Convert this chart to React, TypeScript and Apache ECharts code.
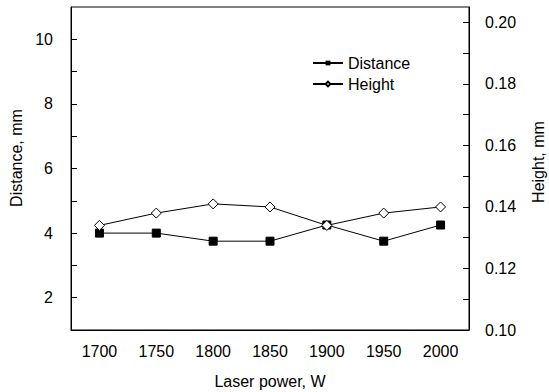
import React, { useEffect, useRef } from "react";
import * as echarts from "echarts";

const categories = ["1700", "1750", "1800", "1850", "1900", "1950", "2000"];
const distance = [4.0, 4.0, 3.75, 3.75, 4.25, 3.75, 4.25];
const height = [0.134, 0.138, 0.141, 0.14, 0.134, 0.138, 0.14];
const xName = "Laser power, W";
const leftName = "Distance, mm";
const rightName = "Height, mm";

const FONT = "'Liberation Sans', Arial, sans-serif";

export default function App() {
  const ref = useRef<HTMLDivElement>(null);
  useEffect(() => {
    if (!ref.current) return;
    const chart = echarts.init(ref.current, undefined, { renderer: "svg" });
    chart.setOption({
      animation: false,
      backgroundColor: "#fff",
      textStyle: { fontFamily: FONT, color: "#000" },
      grid: {
        left: 71,
        right: 80,
        top: 7,
        bottom: 62,
        show: true,
        borderColor: "#000",
        borderWidth: 1,
        backgroundColor: "transparent",
      },
      legend: {
        orient: "vertical",
        left: 307,
        top: 50,
        itemWidth: 30,
        itemHeight: 6,
        itemGap: 5,
        textStyle: { fontFamily: FONT, fontSize: 16, color: "#000" },
        data: ["Distance", "Height"],
      },
      xAxis: {
        type: "category",
        data: categories,
        boundaryGap: true,
        axisLine: { lineStyle: { color: "#000", width: 1 } },
        axisTick: { inside: true, length: 6, alignWithLabel: true, lineStyle: { color: "#000" } },
        axisLabel: { fontFamily: FONT, fontSize: 16, color: "#000", margin: 13 },
        splitLine: { show: false },
      },
      yAxis: [
        {
          type: "value",
          min: 1,
          max: 11,
          interval: 1,
          position: "left",
          axisLine: { show: true, lineStyle: { color: "#000", width: 1 } },
          axisTick: { show: true, inside: true, length: 6, lineStyle: { color: "#000" } },
          axisLabel: {
            fontFamily: FONT,
            fontSize: 16,
            color: "#000",
            margin: 18,
            showMinLabel: false,
            showMaxLabel: false,
            formatter: (v: number) => (Math.round(v) % 2 === 0 ? String(Math.round(v)) : ""),
          },
          splitLine: { show: false },
        },
        {
          type: "value",
          min: 0.1,
          max: 0.205,
          interval: 0.01,
          position: "right",
          axisLine: { show: true, lineStyle: { color: "#000", width: 1 } },
          axisTick: { show: true, inside: true, length: 6, lineStyle: { color: "#000" } },
          axisLabel: {
            fontFamily: FONT,
            fontSize: 16,
            color: "#000",
            margin: 16,
            showMaxLabel: false,
            formatter: (v: number) => {
              const k = v * 100;
              const r = Math.round(k);
              if (Math.abs(k - r) > 1e-6) return "";
              return r % 2 === 0 ? v.toFixed(2) : "";
            },
          },
          splitLine: { show: false },
        },
      ],
      graphic: [
        {
          type: "text",
          x: 16,
          y: 158,
          rotation: Math.PI / 2,
          style: {
            text: leftName,
            fontFamily: FONT,
            fontSize: 16,
            fill: "#000",
            textAlign: "center",
            textVerticalAlign: "middle",
          },
        },
        {
          type: "text",
          x: 538,
          y: 162,
          rotation: Math.PI / 2,
          style: {
            text: rightName,
            fontFamily: FONT,
            fontSize: 16,
            fill: "#000",
            textAlign: "center",
            textVerticalAlign: "middle",
          },
        },
        {
          type: "text",
          x: 270,
          y: 381,
          style: {
            text: xName,
            fontFamily: FONT,
            fontSize: 16,
            fill: "#000",
            textAlign: "center",
            textVerticalAlign: "middle",
          },
        },
      ],
      series: [
        {
          name: "Distance",
          type: "line",
          yAxisIndex: 0,
          data: distance,
          symbol: "rect",
          symbolSize: 8,
          itemStyle: { color: "#000", borderColor: "#000" },
          lineStyle: { color: "#000", width: 1 },
        },
        {
          name: "Height",
          type: "line",
          yAxisIndex: 1,
          data: height,
          symbol: "diamond",
          symbolSize: 10,
          itemStyle: { color: "#fff", borderColor: "#000", borderWidth: 1 },
          lineStyle: { color: "#000", width: 1 },
        },
      ],
    });
    return () => chart.dispose();
  }, []);
  return <div ref={ref} style={{ width: 549, height: 392, position: "absolute", left: 0, top: 0 }} />;
}
